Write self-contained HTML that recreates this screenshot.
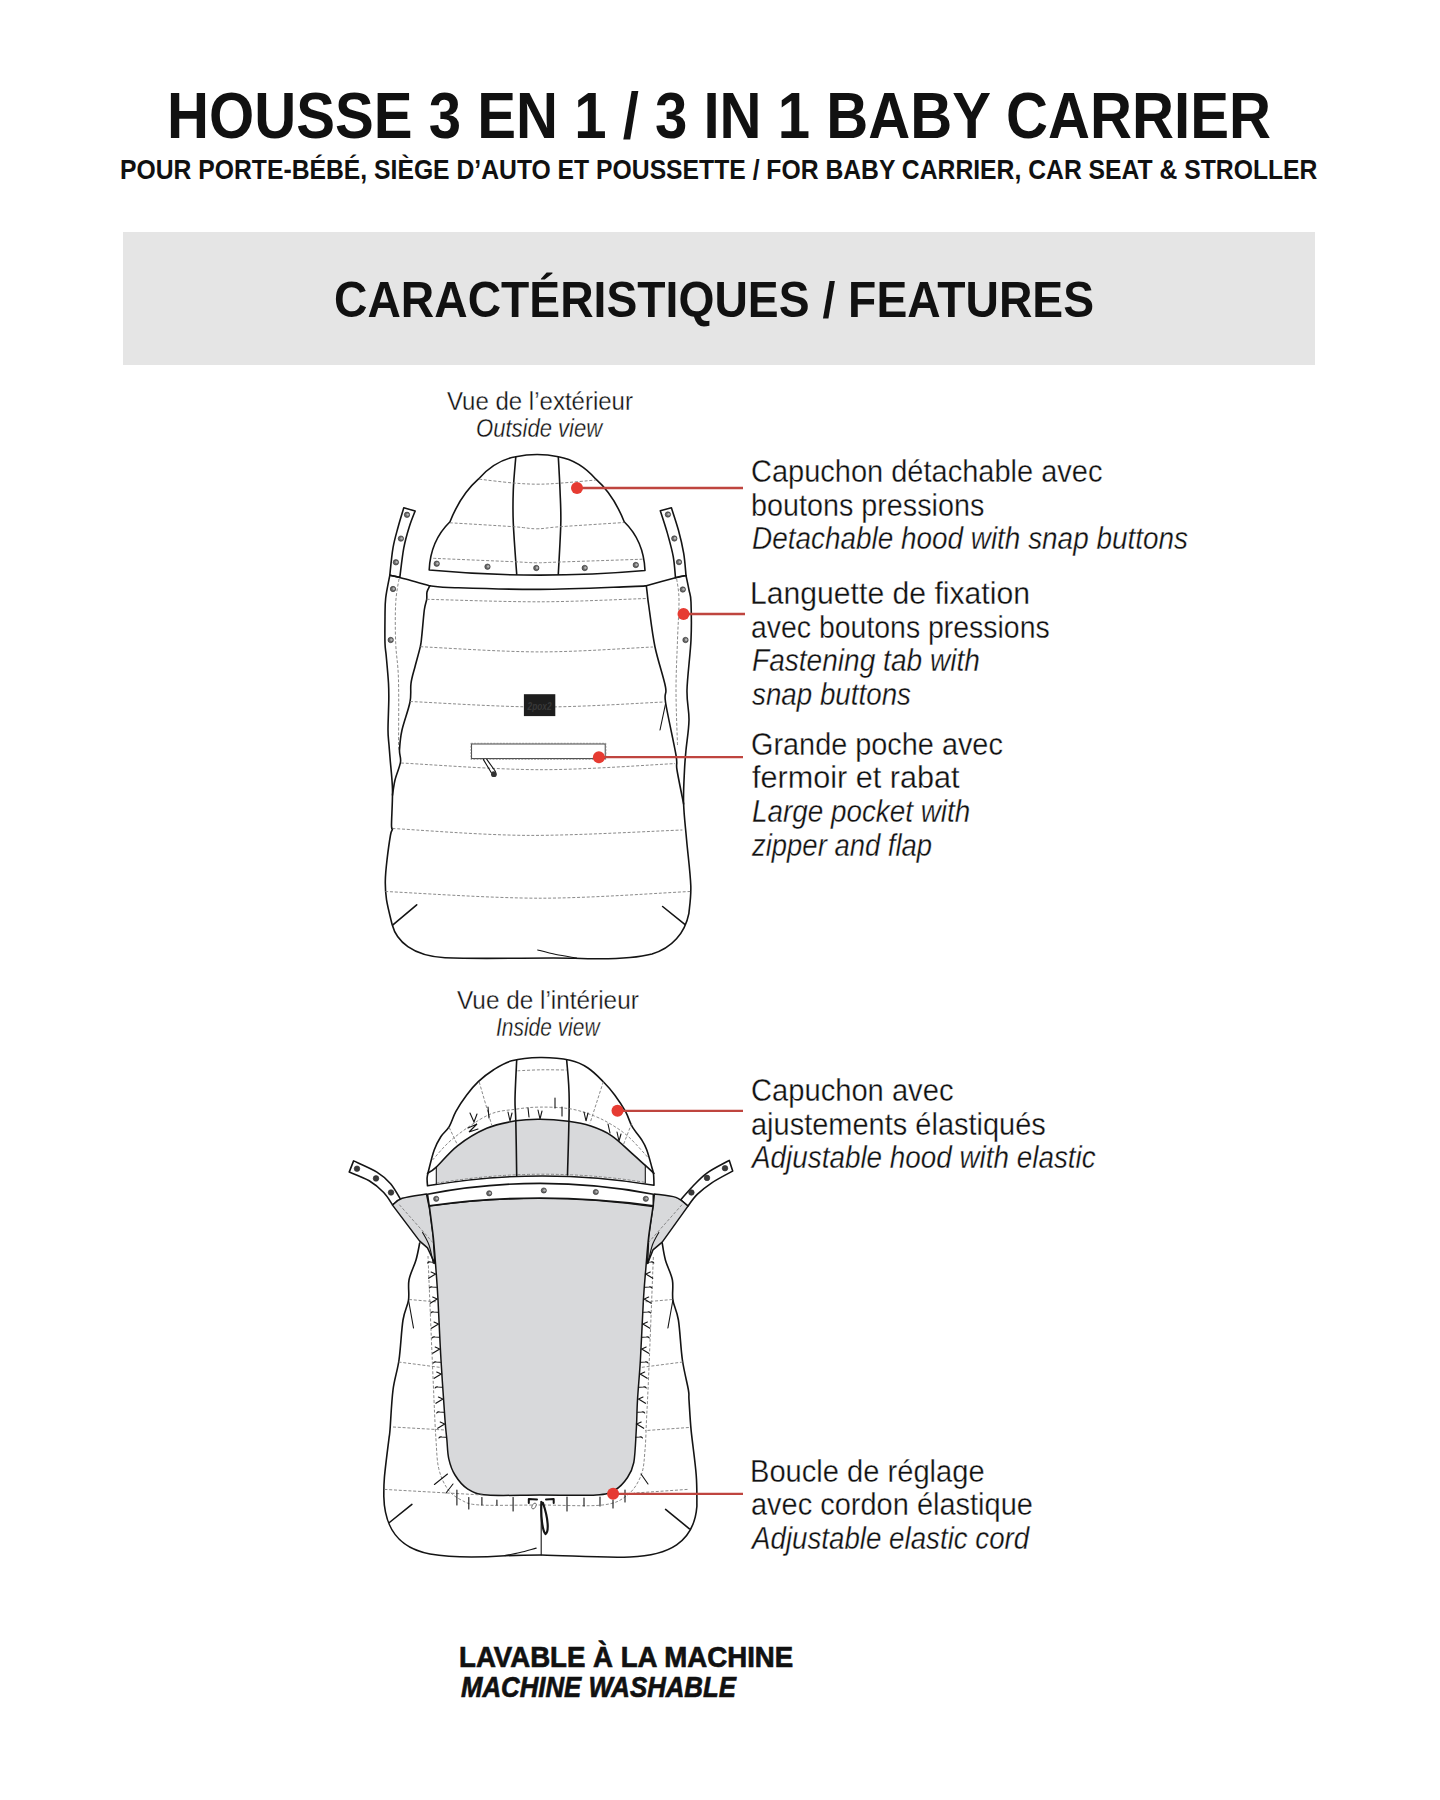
<!DOCTYPE html>
<html><head><meta charset="utf-8"><title>Housse 3 en 1</title>
<style>
html,body{margin:0;padding:0;background:#fff;}
body{width:1440px;height:1800px;position:relative;overflow:hidden;font-family:"Liberation Sans",sans-serif;color:#111;}
.t{position:absolute;white-space:nowrap;line-height:1;transform-origin:0 0;}
.box{position:absolute;left:123px;top:232px;width:1192px;height:133px;background:#e5e5e5;}
svg{position:absolute;left:0;top:0;}
</style></head><body>
<div class="box"></div>
<svg width="1440" height="1800" viewBox="0 0 1440 1800">
<style>.s{fill:none;stroke:#141414;stroke-width:1.6;stroke-linecap:round;stroke-linejoin:round}.d{fill:none;stroke:#7d7d7d;stroke-width:0.9;stroke-dasharray:3 1.8}.sw{fill:#fff;stroke:#141414;stroke-width:1.6;stroke-linejoin:round}.g{fill:#d8d9db;stroke:none}.gs{fill:#d8d9db;stroke:#141414;stroke-width:1.5;stroke-linejoin:round}.th{fill:none;stroke:#141414;stroke-width:1.1;stroke-linecap:round}</style>
<path class="sw" d="M429.2,570 Q430.4,540.75 450,521.7 Q460.85,494.55 478.3,479.2 Q494.55,460.45 515.8,456.7 Q537.1,452.3 558.4,456.7 Q579.65,460.45 595.9,479.2 Q613.35,494.55 624.2,521.7 Q643.8,540.75 645,570.5 Q537,580 429.2,570 Z" />
<path class="s" d="M515.8,456.7C515.4,462.2 513.7,478.9 513.3,490.0C512.9,501.1 512.7,509.3 513.3,523.3C513.9,537.3 516.1,565.7 516.7,574.2" />
<path class="s" d="M558.3,456.7C558.6,462.2 559.6,478.9 560.0,490.0C560.4,501.1 561.1,509.3 560.8,523.3C560.5,537.3 558.7,565.7 558.3,574.2" />
<path class="d" d="M479.2,479.2C484.9,479.8 503.7,482.2 513.3,483.0C522.9,483.8 529.2,484.1 536.7,484.2C544.2,484.2 548.4,484.0 558.3,483.3C568.1,482.6 589.5,480.6 595.8,480.0" />
<path class="d" d="M450.0,522.8C460.6,523.4 498.8,525.7 513.3,526.7C527.8,527.7 528.9,528.8 536.7,528.8C544.5,528.8 545.4,527.8 560.0,526.7C574.6,525.7 613.5,523.2 624.2,522.5" />
<path class="d" d="M433.3,558.3C446.6,558.9 496.1,561.0 513.3,561.7C530.5,562.5 528.9,562.8 536.7,562.8C544.5,562.8 542.4,562.6 560.0,562.0C577.6,561.4 628.8,559.7 642.5,559.2" />
<circle cx="436.7" cy="563.7" r="2.7" fill="#6a6a6a" stroke="#2a2a2a" stroke-width="0.6"/>
<circle cx="437.4" cy="563.5" r="1.22" fill="#b5b5b5"/>
<circle cx="487.5" cy="566.7" r="2.7" fill="#6a6a6a" stroke="#2a2a2a" stroke-width="0.6"/>
<circle cx="488.2" cy="566.5" r="1.22" fill="#b5b5b5"/>
<circle cx="536.3" cy="568" r="2.7" fill="#6a6a6a" stroke="#2a2a2a" stroke-width="0.6"/>
<circle cx="537.0" cy="567.8" r="1.22" fill="#b5b5b5"/>
<circle cx="584.7" cy="568" r="2.7" fill="#6a6a6a" stroke="#2a2a2a" stroke-width="0.6"/>
<circle cx="585.4000000000001" cy="567.8" r="1.22" fill="#b5b5b5"/>
<circle cx="635.8" cy="565" r="2.7" fill="#6a6a6a" stroke="#2a2a2a" stroke-width="0.6"/>
<circle cx="636.5" cy="564.8" r="1.22" fill="#b5b5b5"/>
<path class="sw" d="M403.8,507.7C402.9,510.9 400.0,520.0 398.2,526.7C396.4,533.4 394.4,539.7 393.0,547.8C391.6,555.9 390.3,570.7 389.8,575.3L399.8,577.4C400.5,572.5 402.2,556.2 403.8,547.8C405.4,539.3 407.4,532.8 409.3,526.7C411.2,520.6 414.1,513.7 415.1,511.1Z" />
<path class="sw" d="M660.3,510.8C661.5,514.5 665.1,525.3 667.3,532.9C669.4,540.5 671.8,548.8 673.2,556.3C674.6,563.8 675.1,574.2 675.5,577.8L686,575.5C685.6,571.8 685.0,560.9 683.7,553.3C682.4,545.7 680.5,537.6 678.4,530.0C676.3,522.4 672.6,511.5 671.4,507.8Z" />
<circle cx="407" cy="514.8" r="2.7" fill="#6a6a6a" stroke="#2a2a2a" stroke-width="0.6"/>
<circle cx="407.7" cy="514.5999999999999" r="1.22" fill="#b5b5b5"/>
<circle cx="400.9" cy="538.6" r="2.7" fill="#6a6a6a" stroke="#2a2a2a" stroke-width="0.6"/>
<circle cx="401.59999999999997" cy="538.4" r="1.22" fill="#b5b5b5"/>
<circle cx="395.9" cy="562.3" r="2.7" fill="#6a6a6a" stroke="#2a2a2a" stroke-width="0.6"/>
<circle cx="396.59999999999997" cy="562.0999999999999" r="1.22" fill="#b5b5b5"/>
<circle cx="393" cy="589" r="2.7" fill="#6a6a6a" stroke="#2a2a2a" stroke-width="0.6"/>
<circle cx="393.7" cy="588.8" r="1.22" fill="#b5b5b5"/>
<circle cx="390.7" cy="640" r="2.7" fill="#6a6a6a" stroke="#2a2a2a" stroke-width="0.6"/>
<circle cx="391.4" cy="639.8" r="1.22" fill="#b5b5b5"/>
<circle cx="667.9" cy="514.5" r="2.7" fill="#6a6a6a" stroke="#2a2a2a" stroke-width="0.6"/>
<circle cx="668.6" cy="514.3" r="1.22" fill="#b5b5b5"/>
<circle cx="674.3" cy="538.5" r="2.7" fill="#6a6a6a" stroke="#2a2a2a" stroke-width="0.6"/>
<circle cx="675.0" cy="538.3" r="1.22" fill="#b5b5b5"/>
<circle cx="679" cy="562.1" r="2.7" fill="#6a6a6a" stroke="#2a2a2a" stroke-width="0.6"/>
<circle cx="679.7" cy="561.9" r="1.22" fill="#b5b5b5"/>
<circle cx="682.8" cy="589.5" r="2.7" fill="#6a6a6a" stroke="#2a2a2a" stroke-width="0.6"/>
<circle cx="683.5" cy="589.3" r="1.22" fill="#b5b5b5"/>
<circle cx="685.5" cy="640" r="2.7" fill="#6a6a6a" stroke="#2a2a2a" stroke-width="0.6"/>
<circle cx="686.2" cy="639.8" r="1.22" fill="#b5b5b5"/>
<path class="s" d="M389.8,575.3C389.1,579.1 386.5,591.1 385.7,598.0C384.9,604.9 385.1,609.2 385.0,616.7C384.9,624.2 384.8,636.6 385.0,643.3C385.2,650.0 385.7,650.0 386.3,656.7C386.9,663.4 388.1,676.1 388.5,683.3C388.9,690.5 388.9,692.2 388.8,700.0C388.7,707.8 388.0,722.5 388.0,730.0C388.0,737.5 388.6,740.0 389.0,745.0C389.4,750.0 389.6,752.5 390.2,760.0C390.8,767.5 392.3,779.2 392.5,790.0C392.7,800.8 391.5,818.5 391.5,825.0C391.5,831.5 392.7,827.3 392.5,829.0C392.3,830.7 391.4,829.8 390.5,835.0C389.6,840.2 387.9,852.3 387.0,860.0C386.1,867.7 385.4,874.6 385.3,881.2C385.2,887.8 385.4,892.3 386.5,899.6C387.6,906.9 391.2,920.6 392.2,924.8C396.5,941 412,956 445,957.8 C490,959.5 540,957.2 575,958.2 C610,959.6 635,958.5 652,954 C672,948 685,933 688.9,913.3C689.2,908.7 691.2,898.0 690.8,885.8C690.4,873.6 687.8,853.7 686.6,840.0C685.4,826.3 684.0,815.5 683.6,803.8C683.2,792.1 684.1,779.0 684.5,770.0C684.9,761.0 685.2,758.3 686.0,750.0C686.8,741.7 688.8,730.0 689.0,720.0C689.2,710.0 686.7,703.3 687.0,690.0C687.3,676.7 690.3,654.7 691.0,640.0C691.7,625.3 691.3,610.3 691.0,602.0C690.7,593.7 689.8,594.4 689.0,590.0C688.2,585.6 686.5,577.9 686.0,575.5" />
<path class="s" d="M389.8,575.3C391.5,575.6 393.1,575.6 399.8,577.4C406.5,579.1 424.9,584.4 429.9,585.8" />
<path class="s" d="M429.9,585.8C434.1,586.1 436.6,587.1 455.0,587.7C473.4,588.3 510.8,589.6 540.0,589.4C569.2,589.2 612.3,587.2 630.0,586.6C647.7,586.0 643.6,585.9 646.3,585.7" />
<path class="s" d="M646.3,585.7C651.2,584.4 668.9,579.5 675.5,577.8C682.1,576.1 684.2,575.9 686.0,575.5" />
<path class="s" d="M429.7,586.0C429.2,587.0 427.5,589.8 427.0,592.0C426.5,594.2 427.1,596.3 426.7,599.3C426.2,602.3 425.1,603.8 424.3,610.0C423.5,616.2 422.4,630.6 421.7,636.7C421.0,642.8 421.4,641.7 420.3,646.7C419.2,651.7 416.6,660.6 415.0,666.7C413.4,672.8 411.8,677.4 411.0,683.3C410.2,689.2 411.5,694.2 410.0,702.0C408.5,709.8 403.8,722.0 402.0,730.0C400.2,738.0 399.8,744.7 399.5,750.0C399.2,755.3 401.2,757.0 400.5,762.0C399.8,767.0 396.3,774.5 395.0,780.0C393.7,785.5 392.9,792.5 392.5,795.0" />
<path class="s" d="M646.3,585.7C646.5,587.1 646.9,590.6 647.3,594.0C647.7,597.4 647.5,597.2 648.8,606.0C650.1,614.8 652.2,633.5 655.0,647.0C657.8,660.5 663.8,677.8 665.5,687.0C667.2,696.2 663.8,690.7 665.5,702.0C667.2,713.3 674.1,743.7 676.0,755.0C677.9,766.3 675.7,761.9 677.0,770.0C678.3,778.1 682.5,798.2 683.6,803.8" />
<path class="d" d="M399.0,579.0C398.4,583.0 396.2,592.6 395.7,603.3C395.1,614.0 395.2,630.5 395.7,643.3C396.2,656.1 398.0,662.2 398.5,680.0C399.0,697.8 398.5,738.3 398.5,750.0" />
<path class="d" d="M676.7,579.0C677.1,582.5 678.9,589.8 679.0,600.0C679.1,610.2 678.0,625.0 677.5,640.0C677.0,655.0 676.0,672.5 676.0,690.0C676.0,707.5 677.2,735.8 677.5,745.0" />
<path class="d" d="M426.7,599.3C445.6,599.7 503.3,601.9 540.0,601.8C576.7,601.7 629.2,599.0 647.0,598.5" />
<path class="d" d="M420.3,646.7C440.2,647.6 501.2,651.9 540.0,651.9C578.8,651.9 634.1,647.8 652.9,647.0" />
<path class="d" d="M410.0,701.5C431.7,702.4 497.6,706.9 540.0,707.0C582.4,707.1 643.8,702.8 664.5,702.0" />
<path class="d" d="M401.0,763.0C424.2,764.1 494.3,769.6 540.0,769.7C585.7,769.8 652.5,764.6 675.0,763.6" />
<path class="d" d="M392.5,828.5C415.1,829.6 479.7,835.1 528.0,835.4C576.3,835.6 656.7,830.9 682.4,830.0" />
<path class="d" d="M385.3,891.5C411.1,892.6 489.2,898.2 540.0,898.2C590.8,898.2 665.1,892.6 690.1,891.5" />
<path class="s" d="M392.9,924.8 L416.7,904.8" />
<path class="s" d="M662.6,906.5 L684.8,924.3" />
<path class="th" d="M537.7,950.0C540.8,950.8 549.5,953.2 556.0,954.5C562.5,955.8 573.2,957.4 576.6,958.0" />
<path class="th" d="M665.5,704.0 L660.0,730.0" />
<rect x="523.9" y="694.2" width="31.4" height="21.9" fill="#1d1d1d"/>
<text x="539.6" y="709.5" font-family="Liberation Sans" font-size="11" font-weight="bold" font-style="italic" fill="#383838" text-anchor="middle" textLength="24" lengthAdjust="spacingAndGlyphs">2pox2</text>
<rect x="471.6" y="744" width="133.6" height="14.6" fill="#fff" stroke="#333" stroke-width="0.9"/>
<rect x="470.9" y="743.3" width="135" height="16" fill="none" stroke="#777" stroke-width="0.7" stroke-dasharray="2 1.2"/>
<path class="th" d="M483.3,759.4 L491.5,773.0" />
<path class="th" d="M486.8,759.4 L495.5,771.5" />
<circle cx="493.9" cy="774.2" r="2.9" fill="#333"/>
<path class="sw" d="M353.6,1160.9C357.5,1162.8 370.7,1168.3 376.9,1172.1C383.1,1175.9 386.6,1179.1 390.6,1183.7C394.6,1188.3 399.1,1197.1 400.8,1199.8L392.5,1204.7C391.0,1202.7 387.6,1196.5 383.7,1192.5C379.8,1188.5 374.9,1184.2 369.2,1180.8C363.4,1177.4 352.5,1173.5 349.2,1172.1Z" />
<path class="sw" d="M729.3,1160.4C725.6,1162.5 713.0,1168.7 706.9,1173.1C700.8,1177.5 696.8,1182.2 692.4,1186.7C688.0,1191.2 682.7,1197.6 680.7,1199.8L688,1206.1C689.5,1204.1 693.2,1198.3 697.2,1194.4C701.2,1190.5 705.9,1186.7 711.8,1182.8C717.7,1178.9 729.2,1173.0 732.7,1171.1Z" />
<circle cx="357" cy="1168.7" r="2.8" fill="#3a3a3a" stroke="#2a2a2a" stroke-width="0.6"/>
<circle cx="376" cy="1178.4" r="2.8" fill="#3a3a3a" stroke="#2a2a2a" stroke-width="0.6"/>
<circle cx="391" cy="1192.5" r="2.8" fill="#3a3a3a" stroke="#2a2a2a" stroke-width="0.6"/>
<circle cx="691.4" cy="1192.5" r="2.8" fill="#3a3a3a" stroke="#2a2a2a" stroke-width="0.6"/>
<circle cx="707" cy="1177.9" r="2.8" fill="#3a3a3a" stroke="#2a2a2a" stroke-width="0.6"/>
<circle cx="725" cy="1168.2" r="2.8" fill="#3a3a3a" stroke="#2a2a2a" stroke-width="0.6"/>
<path class="s" d="M419.7,1243.0C419.1,1245.8 417.8,1253.8 416.0,1260.0C414.2,1266.2 410.2,1273.3 409.0,1280.0C407.8,1286.7 409.5,1293.3 408.5,1300.0C407.5,1306.7 404.6,1310.0 403.0,1320.0C401.4,1330.0 400.7,1348.3 399.0,1360.0C397.3,1371.7 394.5,1378.3 393.0,1390.0C391.5,1401.7 390.7,1421.7 390.0,1430.0C389.3,1438.3 389.7,1432.1 388.8,1440.0C387.8,1447.9 385.2,1468.1 384.4,1477.5C383.6,1486.9 383.9,1493.2 383.8,1496.3C384.5,1528 398,1548 430,1554 C450,1557.5 480,1557.5 505,1555.8 C520,1555 530,1555 541.25,1555 C570,1555.5 600,1558 630,1557 C668,1555.5 694,1543 696.9,1506.25C696.8,1501.0 697.2,1487.5 696.2,1475.0C695.3,1462.5 692.5,1443.8 691.2,1431.2C690.0,1418.8 689.5,1406.9 689.0,1400.0C688.5,1393.1 689.5,1396.7 688.4,1390.0C687.3,1383.3 684.1,1371.7 682.4,1360.0C680.7,1348.3 680.0,1330.0 678.4,1320.0C676.8,1310.0 673.9,1306.7 672.9,1300.0C671.9,1293.3 673.6,1286.7 672.4,1280.0C671.1,1273.3 667.1,1266.2 665.4,1260.0C663.7,1253.8 662.7,1245.8 662.2,1243.0" />
<path class="th" d="M408.5,1300.0 L413.5,1328.0" />
<path class="th" d="M672.9,1300.0 L667.9,1328.0" />
<path class="gs" d="M392.5,1205.1C394.1,1204.0 396.5,1200.1 402.2,1198.3C407.9,1196.5 422.4,1194.7 426.5,1194.0L429.4,1208 L433.3,1237.2 L434.8,1263.5 L427.5,1247.9 L419.7,1241.1 Z" />
<path class="gs" d="M688.0,1206.1C686.0,1204.6 681.4,1199.4 675.8,1197.4C670.2,1195.4 658.0,1194.6 654.4,1194.0L653,1206.6 L648.6,1237.2 L647.6,1263.5 L653,1249.9 L662.2,1242.1 Z" />
<path class="d" d="M399.3,1204.7 L433.3,1243.0" />
<path class="d" d="M682.0,1204.7 L648.0,1243.0" />
<path class="th" d="M422.6,1232.4C423.7,1234.5 427.2,1239.8 429.0,1245.0C430.8,1250.2 432.6,1260.4 433.3,1263.5" />
<path class="th" d="M658.8,1232.4C657.7,1234.5 654.2,1239.8 652.4,1245.0C650.6,1250.2 648.7,1260.4 648.0,1263.5" />
<path class="gs" d="M429.4,1206.1C430.0,1211.3 432.2,1226.5 433.3,1237.2C434.4,1247.9 435.2,1259.5 436.0,1270.0C436.8,1280.5 437.2,1285.0 438.0,1300.0C438.8,1315.0 439.8,1340.0 441.0,1360.0C442.2,1380.0 444.0,1406.7 445.0,1420.0C446.0,1433.3 446.3,1433.5 446.9,1440.0C447.5,1446.5 447.4,1452.9 448.8,1458.8C450.1,1464.6 451.9,1470.0 455.0,1475.0C458.1,1480.0 462.1,1485.4 467.5,1488.8C472.9,1492.1 475.4,1494.0 487.5,1495.0C499.6,1496.0 521.9,1495.0 540.0,1495.0C558.1,1495.0 583.8,1495.8 596.2,1495.0C608.8,1494.2 609.8,1492.9 615.0,1490.0C620.2,1487.1 624.4,1482.1 627.5,1477.5C630.6,1472.9 632.3,1470.2 633.8,1462.5C635.2,1454.8 635.6,1441.7 636.2,1431.2C636.9,1420.8 636.8,1411.9 637.5,1400.0C638.2,1388.1 639.4,1376.7 640.4,1360.0C641.4,1343.3 642.5,1315.0 643.4,1300.0C644.3,1285.0 644.8,1280.5 645.7,1270.0C646.6,1259.5 647.4,1247.8 648.6,1237.2C649.8,1226.6 652.3,1211.7 653.0,1206.6 Q540,1190.2 429.4,1206.1 Z" />
<path class="sw" d="M427.5,1194.2 Q540,1172.6 653.3,1194.2 L653.3,1205.8 Q540,1190.2 429.2,1205.8 Z" />
<circle cx="436.2" cy="1198.8" r="2.6" fill="#6a6a6a" stroke="#2a2a2a" stroke-width="0.6"/>
<circle cx="436.9" cy="1198.6" r="1.17" fill="#b5b5b5"/>
<circle cx="489.2" cy="1193.3" r="2.6" fill="#6a6a6a" stroke="#2a2a2a" stroke-width="0.6"/>
<circle cx="489.9" cy="1193.1" r="1.17" fill="#b5b5b5"/>
<circle cx="543.8" cy="1190.5" r="2.6" fill="#6a6a6a" stroke="#2a2a2a" stroke-width="0.6"/>
<circle cx="544.5" cy="1190.3" r="1.17" fill="#b5b5b5"/>
<circle cx="595.8" cy="1192" r="2.6" fill="#6a6a6a" stroke="#2a2a2a" stroke-width="0.6"/>
<circle cx="596.5" cy="1191.8" r="1.17" fill="#b5b5b5"/>
<circle cx="645.8" cy="1198.8" r="2.6" fill="#6a6a6a" stroke="#2a2a2a" stroke-width="0.6"/>
<circle cx="646.5" cy="1198.6" r="1.17" fill="#b5b5b5"/>
<path class="sw" d="M427.5,1185.8C427.4,1184.5 427.0,1180.6 427.1,1178.3C427.2,1176.0 427.1,1176.4 428.3,1171.7C429.5,1167.0 432.1,1155.8 434.2,1150.0C436.3,1144.2 438.3,1140.6 440.8,1136.7C443.3,1132.8 446.7,1130.9 449.2,1126.7C451.7,1122.5 452.9,1117.0 455.8,1111.7C458.7,1106.4 462.9,1100.0 466.7,1095.0C470.4,1090.0 473.9,1085.9 478.3,1081.7C482.7,1077.5 487.7,1073.5 493.3,1070.0C498.9,1066.5 503.9,1062.9 511.7,1060.8C519.5,1058.7 530.3,1057.6 540.0,1057.5C549.7,1057.4 562.0,1058.5 570.0,1060.3C578.0,1062.0 582.5,1064.4 588.0,1068.0C593.5,1071.6 598.8,1077.2 603.3,1081.7C607.8,1086.2 611.0,1090.0 614.7,1095.0C618.4,1100.0 622.7,1106.4 625.6,1111.7C628.5,1117.0 629.5,1122.0 632.2,1126.7C634.9,1131.4 639.4,1136.2 641.8,1140.0C644.2,1143.8 645.1,1145.2 646.7,1149.7C648.4,1154.2 650.6,1162.7 651.7,1166.7C652.8,1170.8 653.1,1170.9 653.5,1174.0C653.9,1177.1 653.9,1183.3 654.0,1185.2 Q540,1166.4 427.5,1185.8 Z" />
<path class="g" d="M436.3,1167.1C439.8,1163.5 449.1,1152.3 457.5,1145.8C465.9,1139.3 477.0,1132.5 486.7,1128.3C496.4,1124.1 506.9,1122.3 515.8,1120.8C524.7,1119.3 531.2,1119.1 540.0,1119.2C548.8,1119.3 559.8,1120.2 568.3,1121.3C576.8,1122.4 583.6,1123.7 590.8,1126.1C598.0,1128.5 604.8,1131.2 611.7,1135.8C618.7,1140.4 626.9,1149.0 632.5,1153.9C638.1,1158.8 643.2,1163.5 645.3,1165.4 L645.3,1183 Q540,1165.6 436.3,1184 Z" />
<path class="s" d="M427.5,1173.3C429.0,1172.3 431.3,1171.7 436.3,1167.1C441.3,1162.5 449.1,1152.3 457.5,1145.8C465.9,1139.3 477.0,1132.5 486.7,1128.3C496.4,1124.1 506.9,1122.3 515.8,1120.8C524.7,1119.3 531.2,1119.1 540.0,1119.2C548.8,1119.3 559.8,1120.2 568.3,1121.3C576.8,1122.4 583.6,1123.7 590.8,1126.1C598.0,1128.5 604.8,1131.2 611.7,1135.8C618.7,1140.4 626.9,1149.0 632.5,1153.9C638.1,1158.8 641.7,1162.2 645.3,1165.4C648.9,1168.6 652.5,1172.0 654.0,1173.3" />
<path class="d" d="M436.3,1183.3 Q540,1165.6 645.3,1182.4" />
<path class="th" d="M436.3,1167.1 L436.3,1183.8" />
<path class="th" d="M645.3,1165.4 L645.3,1183.0" />
<path class="s" d="M516.7,1060.0C516.4,1066.7 515.1,1089.9 515.0,1100.0C514.9,1110.1 515.5,1108.2 515.8,1120.8C516.1,1133.4 516.6,1166.6 516.7,1175.8" />
<path class="s" d="M566.7,1060.3C567.1,1066.9 569.1,1080.9 569.2,1100.0C569.3,1119.1 567.8,1162.5 567.5,1175.0" />
<path class="d" d="M517.5,1070.8C521.6,1070.6 533.8,1069.9 542.0,1069.8C550.2,1069.7 562.6,1070.0 566.7,1070.0" />
<path class="d" d="M432.5,1160.0C436.0,1156.4 444.0,1145.8 453.3,1138.3C462.6,1130.8 477.9,1119.8 488.3,1115.0C498.7,1110.2 507.2,1110.5 515.8,1109.2C524.4,1107.9 531.0,1107.2 540.0,1107.1C549.0,1107.0 561.0,1107.3 570.0,1108.8C579.0,1110.2 587.3,1113.3 594.3,1116.0C601.2,1118.7 605.9,1121.2 611.7,1124.7C617.5,1128.2 622.9,1131.7 629.0,1137.2C635.1,1142.8 645.2,1154.5 648.5,1158.0" />
<path class="d" d="M479.2,1082.0 L491.7,1125.0" />
<path class="d" d="M449.2,1127.5 L457.5,1145.0" />
<path class="d" d="M603.3,1081.7 L590.0,1123.3" />
<path class="d" d="M631.7,1123.3 L623.3,1145.0" />
<path class="th" d="M470,1113 L474,1122 L477,1114" />
<path class="th" d="M468,1128 L477,1124 L469,1132 L478,1129" />
<path class="th" d="M488,1107 L489,1118" />
<path class="th" d="M508,1112 L510,1121 L512,1113" />
<path class="th" d="M528,1108 L529,1117" />
<path class="th" d="M538,1110 L540,1119 L542,1111" />
<path class="th" d="M555,1098 L555,1108" />
<path class="th" d="M562,1107 L562,1116" />
<path class="th" d="M584,1112 L586,1121 L588,1113" />
<path class="th" d="M608,1124 L610,1133" />
<path class="th" d="M617,1132 L619,1141 L621,1134" />
<path class="d" d="M428.0,1256.0C428.5,1268.3 430.0,1306.0 431.0,1330.0C432.0,1354.0 433.2,1381.7 434.0,1400.0C434.8,1418.3 435.2,1428.5 436.0,1440.0C436.8,1451.5 436.8,1460.6 438.8,1468.8C440.7,1476.9 443.8,1483.5 447.5,1488.8C451.2,1494.0 455.8,1497.3 461.2,1500.0C466.7,1502.7 466.9,1504.2 480.0,1505.0C493.1,1505.8 519.6,1505.0 540.0,1505.0C560.4,1505.0 587.9,1506.7 602.5,1505.0C617.1,1503.3 621.0,1500.0 627.5,1495.0C634.0,1490.0 638.3,1482.5 641.2,1475.0C644.2,1467.5 644.1,1459.2 645.0,1450.0C645.9,1440.8 646.0,1430.0 646.5,1420.0C647.0,1410.0 647.3,1405.0 648.0,1390.0C648.7,1375.0 649.6,1352.3 650.5,1330.0C651.4,1307.7 652.9,1268.3 653.4,1256.0" />
<path class="d" d="M409.0,1299.5 L438.0,1302.0" />
<path class="d" d="M398.5,1362.0 L441.0,1367.5" />
<path class="d" d="M393.0,1427.0 L445.0,1430.0" />
<path class="d" d="M384.4,1489.4 L482.5,1495.0" />
<path class="d" d="M672.4,1299.5 L643.4,1302.0" />
<path class="d" d="M682.9,1362.0 L640.4,1367.5" />
<path class="d" d="M688.8,1427.5 L645.0,1430.6" />
<path class="d" d="M687.5,1489.4 L633.8,1493.1" />
<path class="th" d="M427.6,1263.0 q1,-1.5 3,-1 L434.6,1262.2" />
<path class="th" d="M653.8,1263.0 q-1,-1.5 -3,-1 L646.8,1262.2" />
<path class="th" d="M431.1,1272.0 L435.6,1274.0 L428.6,1278.3" />
<path class="th" d="M650.3,1272.0 L645.8,1274.0 L652.8,1278.3" />
<path class="th" d="M429.4,1288.0 q1,-1.5 3,-1 L436.4,1287.2" />
<path class="th" d="M652.0,1288.0 q-1,-1.5 -3,-1 L645.0,1287.2" />
<path class="th" d="M432.7,1297.0 L437.2,1299.0 L430.2,1303.3" />
<path class="th" d="M648.7,1297.0 L644.2,1299.0 L651.2,1303.3" />
<path class="th" d="M430.8,1313.0 q1,-1.5 3,-1 L437.8,1312.2" />
<path class="th" d="M650.6,1313.0 q-1,-1.5 -3,-1 L643.6,1312.2" />
<path class="th" d="M434.0,1322.0 L438.5,1324.0 L431.5,1328.3" />
<path class="th" d="M647.4,1322.0 L642.9,1324.0 L649.9,1328.3" />
<path class="th" d="M432.1,1338.0 q1,-1.5 3,-1 L439.1,1337.2" />
<path class="th" d="M649.3,1338.0 q-1,-1.5 -3,-1 L642.3,1337.2" />
<path class="th" d="M435.2,1347.0 L439.7,1349.0 L432.7,1353.3" />
<path class="th" d="M646.2,1347.0 L641.7,1349.0 L648.7,1353.3" />
<path class="th" d="M433.4,1363.0 q1,-1.5 3,-1 L440.4,1362.2" />
<path class="th" d="M648.0,1363.0 q-1,-1.5 -3,-1 L641.0,1362.2" />
<path class="th" d="M436.7,1372.0 L441.2,1374.0 L434.2,1378.3" />
<path class="th" d="M644.7,1372.0 L640.2,1374.0 L647.2,1378.3" />
<path class="th" d="M435.1,1388.0 q1,-1.5 3,-1 L442.1,1387.2" />
<path class="th" d="M646.3,1388.0 q-1,-1.5 -3,-1 L639.3,1387.2" />
<path class="th" d="M438.4,1397.0 L442.9,1399.0 L435.9,1403.3" />
<path class="th" d="M643.0,1397.0 L638.5,1399.0 L645.5,1403.3" />
<path class="th" d="M436.7,1413.0 q1,-1.5 3,-1 L443.7,1412.2" />
<path class="th" d="M644.7,1413.0 q-1,-1.5 -3,-1 L637.7,1412.2" />
<path class="th" d="M440.2,1422.0 L444.7,1424.0 L437.7,1428.3" />
<path class="th" d="M641.2,1422.0 L636.7,1424.0 L643.7,1428.3" />
<path class="th" d="M438.9,1438.0 q1,-1.5 3,-1 L445.9,1437.2" />
<path class="th" d="M642.5,1438.0 q-1,-1.5 -3,-1 L635.5,1437.2" />
<path class="th" d="M456.9,1490.0 L456.9,1505.0" />
<path class="th" d="M468.8,1497.5 L468.8,1509.0" />
<path class="th" d="M481.9,1497.5 L481.9,1505.0" />
<path class="th" d="M496.9,1500.0 L496.9,1505.0" />
<path class="th" d="M513.1,1497.5 L513.1,1511.0" />
<path class="th" d="M567.0,1497.0 L567.0,1511.0" />
<path class="th" d="M584.0,1498.0 L584.0,1506.0" />
<path class="th" d="M600.0,1497.0 L600.0,1506.0" />
<path class="th" d="M613.0,1500.0 L613.0,1508.0" />
<path class="th" d="M625.0,1490.0 L625.0,1502.0" />
<path class="th" d="M434.4,1484.5 L447.5,1474.0" />
<path class="th" d="M446.0,1493.0 L453.0,1484.0" />
<path class="th" d="M641.0,1474.0 L648.0,1484.0" />
<path class="s" d="M389.4,1522.5 L411.9,1504.4" />
<path class="s" d="M665.6,1509.4 L689.4,1528.8" />
<path class="th" d="M541.2,1501.2 L541.2,1555.0" />
<path class="s" d="M541.5,1502 C540.5,1516 542.5,1531 545.5,1534 C549,1532 548.5,1519 543,1503" style="stroke-width:2.2"/>
<path class="s" d="M528.8,1503 L528.8,1499 L537,1499.5 M546,1499.5 L553.7,1499 L553.7,1503" style="stroke-width:2"/>
<ellipse cx="534" cy="1506" rx="1.8" ry="3.2" transform="rotate(30 534 1506)" fill="#fff" stroke="#555" stroke-width="0.8"/>
<path class="th" d="M505.0,1555.6C507.5,1555.1 514.8,1553.8 520.0,1552.5C525.2,1551.2 533.5,1548.8 536.2,1548.1" />
<line x1="577" y1="488" x2="743" y2="488" stroke="#bf453f" stroke-width="2.3"/>
<circle cx="577" cy="488" r="6" fill="#e63b32"/>
<line x1="683.5" y1="614" x2="745" y2="614" stroke="#bf453f" stroke-width="2.3"/>
<circle cx="683.5" cy="614" r="6" fill="#e63b32"/>
<line x1="598.9" y1="757.2" x2="743" y2="757.2" stroke="#bf453f" stroke-width="2.3"/>
<circle cx="598.9" cy="757.2" r="6" fill="#e63b32"/>
<line x1="617.5" y1="1110.8" x2="743" y2="1110.8" stroke="#bf453f" stroke-width="2.3"/>
<circle cx="617.5" cy="1110.8" r="6" fill="#e63b32"/>
<line x1="613.1" y1="1493.8" x2="743" y2="1493.8" stroke="#bf453f" stroke-width="2.3"/>
<circle cx="613.1" cy="1493.8" r="6" fill="#e63b32"/>
</svg>
<div class="t" style="left:167.43px;top:82.81px;font-size:65.2px;font-weight:bold;transform:scaleX(0.8920);">HOUSSE 3 EN 1 / 3 IN 1 BABY CARRIER</div>
<div class="t" style="left:120.21px;top:155.84px;font-size:27.6px;font-weight:bold;transform:scaleX(0.8957);">POUR PORTE-BÉBÉ, SIÈGE D’AUTO ET POUSSETTE / FOR BABY CARRIER, CAR SEAT &amp; STROLLER</div>
<div class="t" style="left:334.17px;top:275.37px;font-size:50.6px;font-weight:bold;transform:scaleX(0.9145);">CARACTÉRISTIQUES / FEATURES</div>
<div class="t" style="left:446.64px;top:388.84px;font-size:25px;transform:scaleX(0.9602);-webkit-text-stroke:0.3px #fff;">Vue de l’extérieur</div>
<div class="t" style="left:475.74px;top:415.54px;font-size:25px;font-style:italic;transform:scaleX(0.8816);-webkit-text-stroke:0.3px #fff;">Outside view</div>
<div class="t" style="left:751.13px;top:455.96px;font-size:31px;transform:scaleX(0.9352);-webkit-text-stroke:0.3px #fff;">Capuchon détachable avec</div>
<div class="t" style="left:751.15px;top:489.76px;font-size:31px;transform:scaleX(0.9271);-webkit-text-stroke:0.3px #fff;">boutons pressions</div>
<div class="t" style="left:752.10px;top:523.16px;font-size:31px;font-style:italic;transform:scaleX(0.9002);-webkit-text-stroke:0.3px #fff;">Detachable hood with snap buttons</div>
<div class="t" style="left:750.08px;top:578.16px;font-size:31px;transform:scaleX(0.9727);-webkit-text-stroke:0.3px #fff;">Languette de fixation</div>
<div class="t" style="left:751.17px;top:611.76px;font-size:31px;transform:scaleX(0.9171);-webkit-text-stroke:0.3px #fff;">avec boutons pressions</div>
<div class="t" style="left:752.09px;top:645.26px;font-size:31px;font-style:italic;transform:scaleX(0.9056);-webkit-text-stroke:0.3px #fff;">Fastening tab with</div>
<div class="t" style="left:751.60px;top:679.26px;font-size:31px;font-style:italic;transform:scaleX(0.8954);-webkit-text-stroke:0.3px #fff;">snap buttons</div>
<div class="t" style="left:751.14px;top:728.76px;font-size:31px;transform:scaleX(0.9308);-webkit-text-stroke:0.3px #fff;">Grande poche avec</div>
<div class="t" style="left:751.51px;top:762.46px;font-size:31px;transform:scaleX(0.9870);-webkit-text-stroke:0.3px #fff;">fermoir et rabat</div>
<div class="t" style="left:752.10px;top:796.16px;font-size:31px;font-style:italic;transform:scaleX(0.8979);-webkit-text-stroke:0.3px #fff;">Large pocket with</div>
<div class="t" style="left:752.00px;top:829.76px;font-size:31px;font-style:italic;transform:scaleX(0.8856);-webkit-text-stroke:0.3px #fff;">zipper and flap</div>
<div class="t" style="left:456.63px;top:987.74px;font-size:25px;transform:scaleX(0.9739);-webkit-text-stroke:0.3px #fff;">Vue de l’intérieur</div>
<div class="t" style="left:495.66px;top:1014.54px;font-size:25px;font-style:italic;transform:scaleX(0.8369);-webkit-text-stroke:0.3px #fff;">Inside view</div>
<div class="t" style="left:750.82px;top:1075.46px;font-size:31px;transform:scaleX(0.9398);-webkit-text-stroke:0.3px #fff;">Capuchon avec</div>
<div class="t" style="left:750.83px;top:1109.06px;font-size:31px;transform:scaleX(0.9350);-webkit-text-stroke:0.3px #fff;">ajustements élastiqués</div>
<div class="t" style="left:751.90px;top:1142.46px;font-size:31px;font-style:italic;transform:scaleX(0.8984);-webkit-text-stroke:0.3px #fff;">Adjustable hood with elastic</div>
<div class="t" style="left:750.38px;top:1455.76px;font-size:31px;transform:scaleX(0.9389);-webkit-text-stroke:0.3px #fff;">Boucle de réglage</div>
<div class="t" style="left:750.83px;top:1489.36px;font-size:31px;transform:scaleX(0.9347);-webkit-text-stroke:0.3px #fff;">avec cordon élastique</div>
<div class="t" style="left:751.89px;top:1522.86px;font-size:31px;font-style:italic;transform:scaleX(0.8939);-webkit-text-stroke:0.3px #fff;">Adjustable elastic cord</div>
<div class="t" style="left:459.41px;top:1641.61px;font-size:30px;font-weight:bold;transform:scaleX(0.9213);-webkit-text-stroke:0.7px #111;">LAVABLE À LA MACHINE</div>
<div class="t" style="left:460.50px;top:1671.61px;font-size:30px;font-weight:bold;font-style:italic;transform:scaleX(0.8591);-webkit-text-stroke:0.7px #111;">MACHINE WASHABLE</div>
</body></html>
